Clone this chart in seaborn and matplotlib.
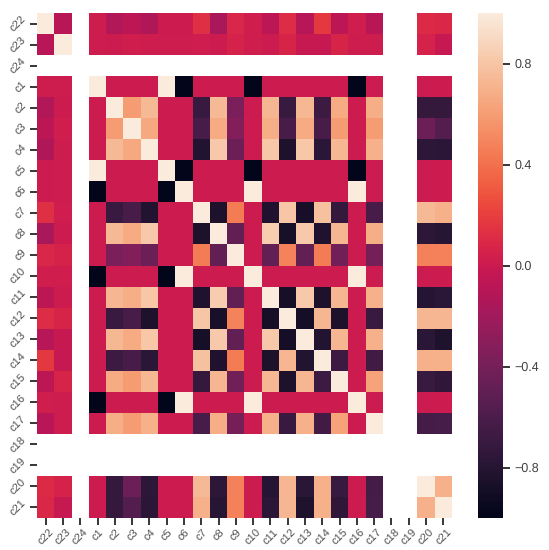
import numpy as np
import pandas as pd
import matplotlib
matplotlib.use("Agg")
import matplotlib.pyplot as plt
import seaborn as sns

# column order of the matrix
labels = ["c22", "c23", "c24", "c1", "c2", "c3", "c4", "c5", "c6", "c7", "c8", "c9", "c10",
          "c11", "c12", "c13", "c14", "c15", "c16", "c17", "c18", "c19", "c20", "c21"]
empty = ["c24", "c18", "c19"]  # constant columns, no correlation
kept = [c for c in labels if c not in empty]

# upper triangle, one row per variable, starting right after the diagonal
r_c22 = [-0.09, 0.01, -0.12, -0.07, -0.13, 0.0, 0.0, 0.13, -0.17, 0.08, 0.03, -0.07, 0.11, -0.1, 0.17, -0.07, 0.03, -0.09, 0.1, 0.09]
r_c23 = [0.01, 0.0, 0.03, 0.01, 0.01, 0.01, 0.02, 0.0, 0.06, 0.03, 0.0, 0.07, -0.02, -0.02, 0.07, 0.01, 0.01, 0.06, -0.02]
r_c1 = [0.0, 0.0, 0.0, 1.0, -1.0, 0.0, 0.0, 0.0, -1.0, 0.0, 0.0, 0.0, 0.0, 0.0, -1.0, 0.0, 0.0, 0.0]
r_c2 = [0.6, 0.74, 0.0, 0.0, -0.7, 0.74, -0.38, 0.0, 0.72, -0.7, 0.73, -0.68, 0.67, 0.0, 0.68, -0.72, -0.72]
r_c3 = [0.65, 0.0, 0.0, -0.62, 0.67, -0.34, 0.0, 0.68, -0.62, 0.67, -0.62, 0.6, 0.0, 0.6, -0.45, -0.57]
r_c4 = [0.0, 0.0, -0.82, 0.82, -0.45, 0.0, 0.81, -0.85, 0.81, -0.78, 0.73, 0.0, 0.7, -0.76, -0.77]
r_c5 = [-1.0, 0.0, 0.0, 0.0, -1.0, 0.0, 0.0, 0.0, 0.0, 0.0, -1.0, 0.0, 0.0, 0.0]
r_c6 = [0.0, 0.0, 0.0, 1.0, 0.0, 0.0, 0.0, 0.0, 0.0, 1.0, 0.0, 0.0, 0.0]
r_c7 = [-0.85, 0.45, 0.0, -0.83, 0.8, -0.88, 0.78, -0.72, 0.0, -0.62, 0.74, 0.7]
r_c8 = [-0.5, 0.0, 0.83, -0.87, 0.82, -0.83, 0.72, 0.0, 0.68, -0.76, -0.79]
r_c9 = [0.0, -0.5, 0.48, -0.5, 0.45, -0.42, 0.0, -0.4, 0.47, 0.47]
r_c10 = [0.0, 0.0, 0.0, 0.0, 0.0, 1.0, 0.0, 0.0, 0.0]
r_c11 = [-0.88, 0.82, -0.85, 0.72, 0.0, 0.7, -0.8, -0.78]
r_c12 = [-0.89, 0.72, -0.85, 0.0, -0.7, 0.72, 0.72]
r_c13 = [-0.82, 0.72, 0.0, 0.7, -0.78, -0.84]
r_c14 = [-0.68, 0.0, -0.65, 0.7, 0.7]
r_c15 = [0.0, 0.63, -0.7, -0.75]
r_c16 = [0.0, 0.0, 0.0]
r_c17 = [-0.64, -0.63]
r_c20 = [0.7]
upper_rows = [r_c22, r_c23, r_c1, r_c2, r_c3, r_c4, r_c5, r_c6, r_c7, r_c8, r_c9, r_c10,
              r_c11, r_c12, r_c13, r_c14, r_c15, r_c16, r_c17, r_c20]

colorbar_ticks = [-0.8, -0.4, 0.0, 0.4, 0.8]

corr = pd.DataFrame(np.nan, index=labels, columns=labels)
for name in kept:
    corr.loc[name, name] = 1.0
for i, row in enumerate(upper_rows):
    for j, val in enumerate(row):
        a, b = kept[i], kept[i + 1 + j]
        corr.loc[a, b] = val
        corr.loc[b, a] = val

sns.set_style("ticks")
plt.rcParams["font.family"] = ["Liberation Sans", "DejaVu Sans"]
plt.rcParams["text.hinting"] = "no_hinting"

W, H = 549, 550
fig = plt.figure(figsize=(W / 100, H / 100), dpi=100)
ax = fig.add_axes([37 / W, 1 - 518 / H, 415 / W, 505 / H])
cax = fig.add_axes([478 / W, 1 - 518 / H, 25 / W, 505 / H])

sns.heatmap(corr, ax=ax, cbar_ax=cax, vmin=-1, vmax=1, cbar_kws={"ticks": colorbar_ticks})

ax.tick_params(axis="both", length=5, width=1.3, color=".15", labelsize=8, labelcolor=".3", pad=1.5)
plt.setp(ax.get_xticklabels(), rotation=45, ha="center")
plt.setp(ax.get_yticklabels(), rotation=45, va="center")
cax.tick_params(length=5, width=1.3, color=".15", labelsize=9, labelcolor=".25", pad=3)

fig.savefig("out.png", dpi=100)
plt.close(fig)
